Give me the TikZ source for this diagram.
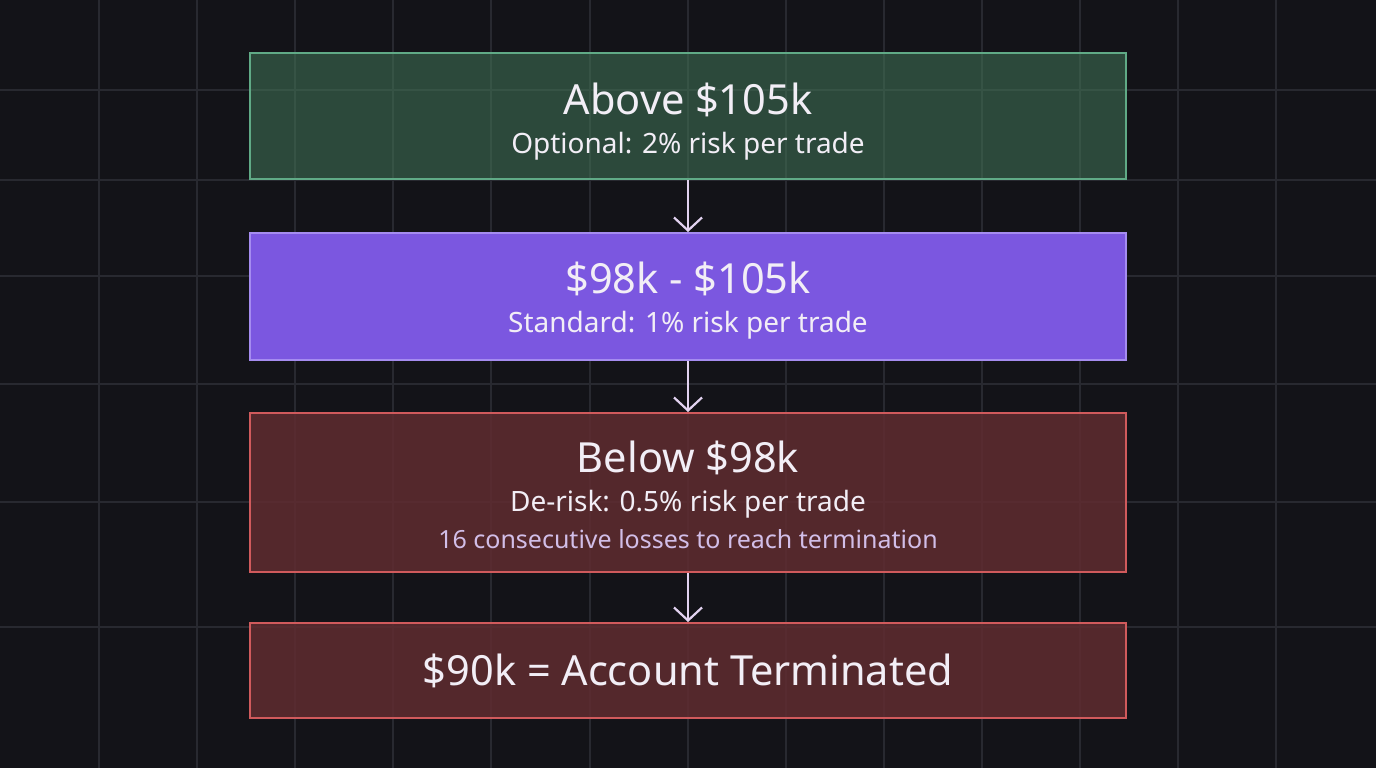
\documentclass[tikz,border=0pt]{standalone}
\usepackage{fontspec}
\setmainfont{Noto Sans}
\usetikzlibrary{arrows.meta}
\definecolor{bgc}{RGB}{19,19,24}
\definecolor{gridc}{RGB}{40,41,48}
\definecolor{gfill}{RGB}{66,118,88}
\definecolor{gborder}{RGB}{96,170,134}
\definecolor{pfill}{RGB}{123,87,224}
\definecolor{pborder}{RGB}{165,140,240}
\definecolor{rfill}{RGB}{96,44,48}
\definecolor{rborder}{RGB}{208,90,92}
\definecolor{txt}{RGB}{242,238,246}
\definecolor{note}{RGB}{210,190,232}
\definecolor{arrc}{RGB}{226,210,240}
\tikzset{
  gridline/.style={draw=gridc, line width=2pt},
  box/.style={rectangle, minimum width=876pt, line width=2pt, inner sep=0pt},
  greenbox/.style={box, draw=gborder, fill=gfill, fill opacity=0.55},
  purplebox/.style={box, draw=pborder, fill=pfill},
  redbox/.style={box, draw=rborder, fill=rfill, fill opacity=0.85},
  title/.style={anchor=base, text=txt, font=\fontsize{41.5}{48}\selectfont},
  sub/.style={anchor=base, text=txt, font=\fontsize{28}{32}\selectfont},
  notetext/.style={anchor=base, text=note, font=\fontsize{25}{29}\selectfont},
  arr/.style={draw=arrc, line width=2pt, -{Straight Barb[length=13pt,width=28pt,line width=2.2pt]}}
}
\begin{document}
\begin{tikzpicture}[x=1pt,y=-1pt]
\fill[bgc] (0,0) rectangle (1376,768);
\useasboundingbox (0,0) rectangle (1376,768);
\foreach \i in {0,...,12}{
  \draw[gridline] ({99+98.1*\i},0) -- ({99+98.1*\i},768);
}
\foreach \yy in {90,180,276,384,502,627}{
  \draw[gridline] (0,\yy) -- (1376,\yy);
}
\node[greenbox, minimum height=126pt] (b1) at (688,116) {};
\node[purplebox, minimum height=127pt] (b2) at (688,296.5) {};
\node[redbox, minimum height=159pt] (b3) at (688,492.5) {};
\node[redbox, minimum height=95pt] (b4) at (688,670.5) {};
\node[title] (t1) at (688,114) {Above \$105k};
\node[sub] (s1) at (688,153) {Optional: 2\% risk per trade};
\node[title] (t2) at (688,293) {\$98k - \$105k};
\node[sub] (s2) at (688,332) {Standard: 1\% risk per trade};
\node[title] (t3) at (688,472) {Below \$98k};
\node[sub] (s3) at (688,511) {De-risk: 0.5\% risk per trade};
\node[notetext] (n3) at (688,548) {16 consecutive losses to reach termination};
\node[title] (t4) at (688,685) {\$90k = Account Terminated};
\draw[arr] (b1.south) -- (b2.north);
\draw[arr] (b2.south) -- (b3.north);
\draw[arr] (b3.south) -- (b4.north);
\end{tikzpicture}
\end{document}
